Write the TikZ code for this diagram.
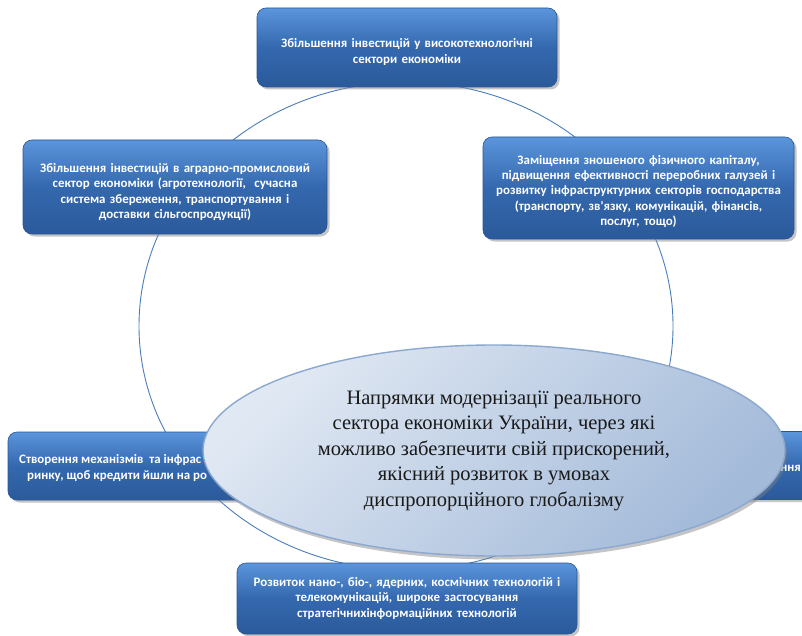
\documentclass[tikz,border=0pt]{standalone}
\usepackage{fontspec}
\setmainfont{Liberation Serif}
\newfontfamily\boxfont{Carlito}
\usetikzlibrary{shapes.geometric,shadows}
\definecolor{boxtop}{HTML}{5B95DC}
\definecolor{boxmid}{HTML}{3468AE}
\definecolor{boxbot}{HTML}{2B5A9B}
\definecolor{boxedge}{HTML}{2A5594}
\definecolor{ringcol}{HTML}{4A7EBB}
\definecolor{ellA}{HTML}{E0E8F3}
\definecolor{ellB}{HTML}{A3BAD9}
\definecolor{elledge}{HTML}{8AA8D0}
\newcommand{\lowerby}[1]{\rule{0pt}{#1}}
\tikzset{
  bluebox/.style={rectangle, rounded corners=9pt, top color=boxtop, bottom color=boxbot, middle color=boxmid,
    draw=boxedge, line width=0.6pt, text=white, font=\boxfont\bfseries\fontsize{12.9}{15.4}\selectfont,
    align=center, inner sep=0pt,
    drop shadow={shadow xshift=2.5pt, shadow yshift=-2.5pt, fill=black!45, opacity=0.5}},
  boxtext/.style={text=white, font=\boxfont\bfseries\fontsize{12.9}{15.4}\selectfont, inner sep=0pt},
  ring/.style={draw=ringcol, line width=0.9pt},
  hub/.style={ellipse, draw=elledge, line width=1.4pt, top color=ellA, bottom color=ellB, shading angle=45,
    align=center, inner sep=0pt, font=\fontsize{20.5}{25.5}\selectfont, text=black!90,
    drop shadow={shadow xshift=2pt, shadow yshift=-3.5pt, fill=black!50, opacity=0.45}}
}
\begin{document}
\begin{tikzpicture}[x=1pt,y=-1pt]
\useasboundingbox (0,0) rectangle (802,636);
\fill[white] (0,0) rectangle (802,636);
% ring behind the boxes
\draw[ring] (406,326) ellipse [x radius=267, y radius=244];
% boxes
\node[bluebox, minimum width=300pt, minimum height=79pt, text width=296pt] (top) at (407,47.5)
  {\lowerby{18pt}Збільшення інвестицій у високотехнологічні\\ сектори економіки};
\node[bluebox, minimum width=304pt, minimum height=94pt, text width=300pt] (left1) at (175,187)
  {\lowerby{19pt}Збільшення інвестицій в аграрно-промисловий\\ сектор економіки (агротехнології,~ сучасна\\ система збереження, транспортування і\\ доставки сільгоспродукції)};
\node[bluebox, minimum width=311pt, minimum height=102pt, text width=307pt] (right1) at (638.5,188)
  {\lowerby{16pt}Заміщення зношеного фізичного капіталу,\\ підвищення ефективності переробних галузей і\\ розвитку інфраструктурних секторів господарства\\ (транспорту, зв'язку, комунікацій, фінансів,\\ послуг, тощо)};
\node[bluebox, minimum width=310pt, minimum height=68pt] (left2) at (163,466) {};
\node[boxtext, anchor=west] (left2a) at (19,460) {Створення механізмів~ та інфрас};
\node[boxtext, anchor=west] (left2b) at (27,476) {ринку, щоб кредити йшли на ро};
\node[bluebox, minimum width=316pt, minimum height=68pt] (right2) at (654,465.5) {};
\node[boxtext, anchor=east] (right2a) at (801,468) {ння};
\node[bluebox, minimum width=340pt, minimum height=71pt, text width=336pt] (bottom) at (407,598.5)
  {Розвиток нано-, біо-, ядерних, космічних технологій і\\ телекомунікацій, широке застосування\\ стратегічнихінформаційних технологій};
% central ellipse
\node[hub, minimum width=582pt, minimum height=211pt] (hub) at (494,450.5)
  {Напрямки модернізації реального\\ сектора економіки України, через які\\ можливо забезпечити свій прискорений,\\ якісний розвиток в умовах\\ диспропорційного глобалізму};
\end{tikzpicture}
\end{document}
